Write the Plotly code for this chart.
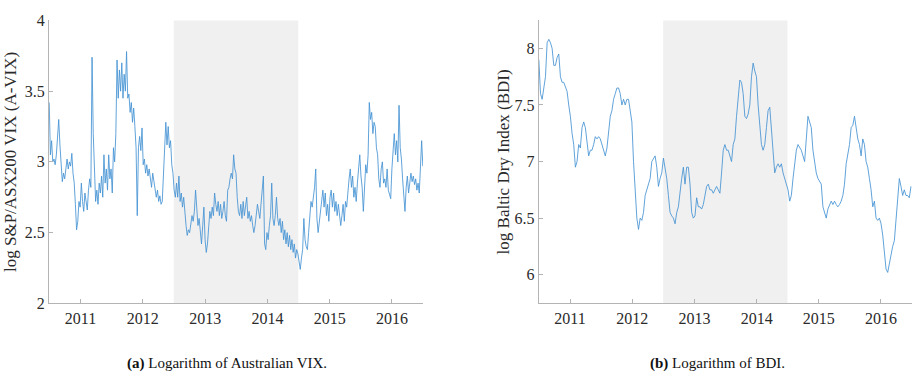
import pandas as pd
import plotly.graph_objects as go

# Weekly log S&P/ASX200 VIX, Jul 2010 - Jun 2016
avix = [
    # 2010/11
    3.42, 3.05, 3.15, 3.00, 3.02, 2.98, 3.05, 3.22, 3.30, 3.12, 3.00, 2.86, 2.92,
    2.88, 2.95, 3.02, 2.95, 3.00, 2.97, 3.06, 2.92, 2.85, 2.70, 2.52, 2.58, 2.72,
    2.68, 2.85, 2.72, 2.65, 2.78, 2.70, 2.66, 2.80, 2.88, 2.82, 3.74, 3.20, 2.85,
    2.72, 2.80, 2.70, 2.85, 2.78, 2.90, 2.75, 3.05, 2.85, 2.95, 2.80, 3.05, 2.88,
    # 2011/12
    2.95, 2.78, 3.10, 3.00, 3.20, 3.72, 3.45, 3.65, 3.50, 3.70, 3.45, 3.62, 3.50,
    3.78, 3.45, 3.48, 3.35, 3.42, 3.28, 3.38, 3.25, 3.10, 2.62, 3.10, 3.18, 3.08,
    3.24, 2.98, 3.02, 2.92, 2.98, 2.90, 2.95, 2.88, 2.82, 2.92, 2.85, 2.78, 2.75,
    2.80, 2.72, 2.76, 2.70, 2.72, 2.90, 3.00, 3.28, 3.12, 3.25, 3.10, 3.15, 2.98,
    # 2012/13
    2.92, 2.80, 2.75, 2.85, 2.75, 2.90, 2.72, 2.78, 2.68, 2.75, 2.62, 2.55, 2.48,
    2.52, 2.50, 2.58, 2.62, 2.58, 2.65, 2.80, 2.62, 2.55, 2.60, 2.50, 2.42, 2.55,
    2.68, 2.45, 2.36, 2.42, 2.55, 2.65, 2.60, 2.68, 2.62, 2.78, 2.70, 2.65, 2.72,
    2.62, 2.70, 2.60, 2.65, 2.72, 2.62, 2.58, 2.80, 2.82, 2.88, 2.92, 2.88, 3.05,
    # 2013/14
    2.95, 2.92, 2.75, 2.65, 2.62, 2.70, 2.60, 2.72, 2.62, 2.68, 2.75, 2.60, 2.65,
    2.58, 2.62, 2.55, 2.50, 2.55, 2.62, 2.70, 2.65, 2.60, 2.70, 2.82, 2.90, 2.42,
    2.38, 2.50, 2.45, 2.55, 2.62, 2.85, 2.60, 2.55, 2.62, 2.75, 2.60, 2.55, 2.60,
    2.50, 2.58, 2.45, 2.52, 2.42, 2.50, 2.40, 2.48, 2.38, 2.45, 2.36, 2.42, 2.32,
    # 2014/15
    2.38, 2.35, 2.28, 2.24, 2.32, 2.38, 2.60, 2.45, 2.40, 2.38, 2.50, 2.60, 2.72,
    2.68, 2.75, 2.82, 2.95, 2.60, 2.50, 2.58, 2.65, 2.72, 2.80, 2.68, 2.78, 2.62,
    2.70, 2.58, 2.75, 2.80, 2.68, 2.78, 2.65, 2.72, 2.62, 2.70, 2.60, 2.55, 2.62,
    2.70, 2.58, 2.72, 2.68, 2.80, 2.88, 2.95, 2.82, 2.90, 2.75, 2.82, 2.72, 2.85,
    2.95,
    # 2015/16
    3.05, 2.90, 2.82, 2.65, 2.88, 2.98, 2.92, 3.05, 3.42, 3.30, 3.35, 3.20, 3.28,
    3.25, 3.10, 3.05, 2.88, 2.82, 2.95, 3.00, 2.85, 2.88, 2.82, 2.95, 2.80, 2.76,
    2.74, 2.95, 3.12, 3.20, 3.05, 3.15, 3.00, 3.40, 3.10, 3.02, 2.88, 2.78, 2.65,
    2.82, 2.90, 2.78, 2.85, 2.92, 2.86, 2.90, 2.84, 2.88, 2.80, 2.85, 2.78, 3.00,
    3.15, 2.97,
]

# Log Baltic Dry Index, sampled roughly every ten days, Jul 2010 - Jun 2016
bdi = [
    7.90, 7.60, 7.55, 7.65, 7.75, 8.05, 8.08, 8.05, 8.00, 7.85, 7.85, 7.92, 7.95,
    7.75, 7.70, 7.70, 7.66, 7.62, 7.50, 7.40, 7.25, 7.15, 6.95, 7.00, 7.15, 7.12,
    7.30, 7.35, 7.30, 7.15, 7.05, 7.10, 7.10, 7.15, 7.22, 7.20, 7.22, 7.20, 7.15,
    7.10, 7.05, 7.12, 7.25, 7.40, 7.45, 7.55, 7.60, 7.65, 7.65, 7.60, 7.50, 7.55,
    7.50, 7.55, 7.55, 7.45, 7.35, 7.00, 6.70, 6.50, 6.40, 6.50, 6.48, 6.55, 6.70,
    6.75, 6.80, 6.85, 7.00, 7.03, 7.05, 6.95, 6.78, 6.85, 6.90, 7.03, 6.95, 6.85,
    6.70, 6.55, 6.52, 6.50, 6.45, 6.55, 6.60, 6.75, 6.85, 6.95, 6.80, 6.95, 6.95,
    6.80, 6.55, 6.50, 6.52, 6.68, 6.60, 6.60, 6.58, 6.62, 6.70, 6.78, 6.80, 6.75,
    6.75, 6.72, 6.75, 6.78, 6.75, 6.72, 6.90, 7.10, 7.15, 7.10, 7.10, 7.05, 7.00,
    7.15, 7.20, 7.40, 7.60, 7.72, 7.70, 7.60, 7.40, 7.38, 7.42, 7.50, 7.75, 7.87,
    7.80, 7.75, 7.50, 7.35, 7.15, 7.10, 7.15, 7.30, 7.45, 7.48, 7.30, 7.05, 6.90,
    6.95, 6.98, 6.95, 6.98, 6.90, 6.85, 6.80, 6.75, 6.65, 6.70, 6.85, 7.00, 7.10,
    7.15, 7.12, 7.10, 7.05, 7.00, 7.20, 7.40, 7.35, 7.30, 7.10, 7.00, 6.90, 6.85,
    6.82, 6.80, 6.60, 6.55, 6.50, 6.58, 6.62, 6.65, 6.62, 6.65, 6.62, 6.60, 6.62,
    6.65, 6.70, 6.80, 6.98, 7.05, 7.15, 7.30, 7.32, 7.40, 7.30, 7.20, 7.15, 7.05,
    7.20, 7.15, 7.00, 6.95, 6.85, 6.75, 6.60, 6.65, 6.50, 6.48, 6.50, 6.45, 6.35,
    6.20, 6.05, 6.02, 6.10, 6.18, 6.25, 6.30, 6.50, 6.70, 6.85, 6.78, 6.70, 6.75,
    6.70, 6.70, 6.68, 6.78,
]

years = ["2011", "2012", "2013", "2014", "2015", "2016"]
shade_start, shade_end = "2012-07-01", "2014-07-01"
x_start, x_end = "2010-07-01", "2016-07-01"

avix_dates = pd.date_range("2010-07-02", "2016-06-30", periods=len(avix))
bdi_dates = pd.date_range("2010-07-02", "2016-06-25", periods=len(bdi))
tick_dates = [f"{y}-01-01" for y in years]

LINE = "#4592d3"
AXIS = "#b4b4b4"
FONT = "Liberation Serif"
TXT = "#2a2a2a"

fig = go.Figure()
fig.add_trace(go.Scatter(x=avix_dates, y=avix, mode="lines",
                         line=dict(color=LINE, width=0.85),
                         xaxis="x", yaxis="y", showlegend=False))
fig.add_trace(go.Scatter(x=bdi_dates, y=bdi, mode="lines",
                         line=dict(color=LINE, width=0.85),
                         xaxis="x2", yaxis="y2", showlegend=False))

common_x = dict(type="date", range=[x_start, x_end], tickvals=tick_dates,
                ticktext=years, ticks="inside", ticklen=4, tickcolor=AXIS,
                showline=True, linecolor=AXIS, linewidth=1, showgrid=False,
                zeroline=False, tickfont=dict(family=FONT, size=16, color=TXT))
common_y = dict(ticks="inside", ticklen=4, tickcolor=AXIS, showline=True,
                linecolor=AXIS, linewidth=1, showgrid=False, zeroline=False,
                tickfont=dict(family=FONT, size=16, color=TXT))

ydom = [0.1953, 0.9661]
fig.update_layout(
    width=915, height=384,
    margin=dict(l=0, r=0, t=0, b=0),
    paper_bgcolor="white", plot_bgcolor="white",
    xaxis=dict(domain=[0.0536, 0.4623], anchor="y", **common_x),
    yaxis=dict(domain=ydom, anchor="x", range=[2, 4],
               tickvals=[2, 2.5, 3, 3.5, 4], ticktext=["2", "2.5", "3", "3.5", "4"],
               title=dict(text="log S&amp;P/ASX200 VIX (A-VIX)",
                          font=dict(family=FONT, size=17, color=TXT), standoff=3),
               **common_y),
    xaxis2=dict(domain=[0.5887, 0.9967], anchor="y2", **common_x),
    yaxis2=dict(domain=ydom, anchor="x2", range=[5.747, 8.247],
                tickvals=[6, 6.5, 7, 7.5, 8], ticktext=["6", "6.5", "7", "7.5", "8"],
                title=dict(text="log Baltic Dry Index (BDI)",
                           font=dict(family=FONT, size=17, color=TXT), standoff=0),
                **common_y),
    shapes=[
        dict(type="rect", xref="x", yref="y domain", x0=shade_start, x1=shade_end,
             y0=0, y1=1, fillcolor="#f0f0f0", line=dict(width=0), layer="below"),
        dict(type="rect", xref="x2", yref="y2 domain", x0=shade_start, x1=shade_end,
             y0=0, y1=1, fillcolor="#f0f0f0", line=dict(width=0), layer="below"),
    ],
    annotations=[
        dict(text="<b>(a)</b> Logarithm of Australian VIX.", xref="paper", yref="paper",
             x=226.5 / 915, y=1 - 372 / 384, showarrow=False, xanchor="center",
             yanchor="middle", font=dict(family=FONT, size=15, color="#111")),
        dict(text="<b>(b)</b> Logarithm of BDI.", xref="paper", yref="paper",
             x=717 / 915, y=1 - 372 / 384, showarrow=False, xanchor="center",
             yanchor="middle", font=dict(family=FONT, size=15, color="#111")),
    ],
)

fig.write_html("out.html")
